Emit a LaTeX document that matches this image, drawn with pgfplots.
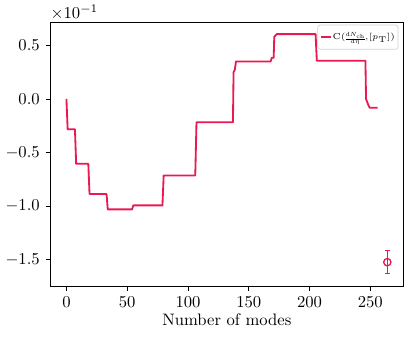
\documentclass[border=0pt]{standalone}
\usepackage{graphicx}
\usepackage{pgfplots}
\pgfplotsset{compat=1.18}
\definecolor{crim}{RGB}{233,25,82}
\begin{document}
\begin{tikzpicture}
\begin{axis}[
  scale only axis,
  width=212.4pt, height=158.6pt,
  xmin=-13.2, xmax=277.2,
  ymin=-1.748, ymax=0.713,
  xtick={0,50,100,150,200,250},
  ytick={-1.5,-1.0,-0.5,0.0,0.5},
  yticklabel style={/pgf/number format/.cd, fixed, fixed zerofill, precision=1},
  xtick pos=bottom, ytick pos=left,
  tick align=outside,
  major tick length=2.9pt,
  tick style={black, line width=0.5pt},
  axis line style={black, line width=0.6pt},
  xlabel={Number of modes},
  xlabel style={yshift=3pt},
  legend style={at={(0.986,0.992)}, anchor=north east, font=\fontsize{5.2}{6}\selectfont, draw=gray!35, fill=white, rounded corners=1.5pt, inner xsep=1.2pt, inner ysep=3.6pt, nodes={inner sep=0.6pt}},
  legend image code/.code={\draw[#1] (0pt,0pt) -- (6pt,0pt);},
  legend cell align=left,
]
\addplot[crim, line width=1.1pt, line join=round] coordinates {
(0,0) (1,-0.283) (7,-0.283) (8,-0.605) (18,-0.605) (19,-0.888) (33,-0.888) (34,-1.031)
(54,-1.031) (55,-0.994) (79,-0.994) (80,-0.714) (106,-0.714) (107,-0.218) (137,-0.218)
(137.5,0.25) (138.5,0.27) (139.5,0.35) (168,0.35) (169,0.385) (170.5,0.385) (171,0.58) (173,0.605)
(205,0.605) (206,0.357) (246,0.357) (246.5,0.0) (248.5,-0.06) (249.5,-0.082) (256,-0.082)
};
\addlegendentry{C(\raisebox{-0.2ex}{\scalebox{0.72}{$\nulldelimiterspace=0pt\frac{\mathrm{d}N_{\mathrm{ch}}}{\mathrm{d}\eta}$}}$,\![p_{\mathrm{T}}]$)}
\addplot[crim, line width=0.8pt, mark=o, mark size=2.2pt, only marks, forget plot,
  error bars/.cd, y dir=both, y explicit, error bar style={line width=0.8pt}, error mark options={rotate=90, mark size=1.5pt, line width=0.6pt}]
  coordinates {(264,-1.524) +- (0,0.108)};
\end{axis}
\node[anchor=south west, inner sep=0pt, yshift=1.5pt] at (current axis.north west) {$\times10^{-1}$};
\path (current axis.south west) ++(-29.4pt,-30pt) (current axis.north east) ++(4.6pt,13.6pt);
\end{tikzpicture}
\end{document}
